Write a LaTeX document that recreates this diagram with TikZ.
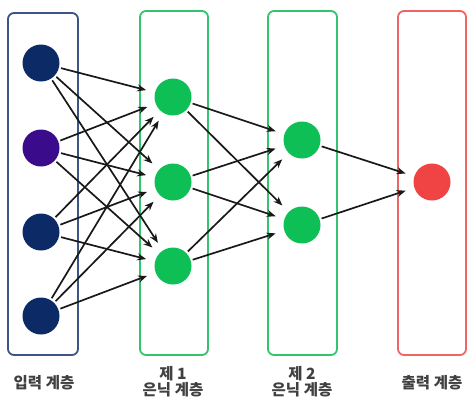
\documentclass[tikz,border=0pt]{standalone}
\usepackage{fontspec}
\newfontfamily\kr{Noto Sans CJK KR}
\usetikzlibrary{arrows.meta}
\definecolor{navy}{HTML}{0C2A66}
\definecolor{purp}{HTML}{3A0C8C}
\definecolor{gbox}{HTML}{35C46E}
\definecolor{gnode}{HTML}{0DBF55}
\definecolor{rbox}{HTML}{F06464}
\definecolor{rnode}{HTML}{F04444}
\begin{document}
\begin{tikzpicture}[x=1pt,y=-1pt,
  layerbox/.style={draw,line width=1.8pt,rounded corners=6pt},
  neuron/.style={circle,minimum size=37pt,inner sep=0pt},
  conn/.style={-{Stealth[length=9pt,width=7pt]},line width=1.7pt,black!90,shorten >=9pt,shorten <=2pt},
  lbl/.style={font=\kr\bfseries\fontsize{15.5}{20}\selectfont,align=center,text=black!75,inner sep=1pt}]
\useasboundingbox (0,0) rectangle (472,400);
\fill[white] (0,0) rectangle (472,400);
% boxes
\draw[layerbox,draw=navy!80] (8,13) rectangle (78,355);
\draw[layerbox,draw=gbox] (140,11) rectangle (208,355);
\draw[layerbox,draw=gbox] (268,11) rectangle (337,355);
\draw[layerbox,draw=rbox] (398,11) rectangle (466,355);
% neurons
\node[neuron,fill=navy] (i1) at (41,63) {};
\node[neuron,fill=purp] (i2) at (41,148) {};
\node[neuron,fill=navy] (i3) at (41,232) {};
\node[neuron,fill=navy] (i4) at (41,316) {};
\node[neuron,fill=gnode] (h1) at (173,97) {};
\node[neuron,fill=gnode] (h2) at (173,182) {};
\node[neuron,fill=gnode] (h3) at (173,266) {};
\node[neuron,fill=gnode] (g1) at (302,140) {};
\node[neuron,fill=gnode] (g2) at (302,225) {};
\node[neuron,fill=rnode] (o1) at (432,182) {};
% connections
\foreach \a in {i1,i2,i3,i4}
  \foreach \b in {h1,h2,h3}
    \draw[conn] (\a) -- (\b);
\foreach \a in {h1,h2,h3}
  \foreach \b in {g1,g2}
    \draw[conn] (\a) -- (\b);
\foreach \a in {g1,g2}
  \draw[conn] (\a) -- (o1);
% labels
\node[lbl] (t1) at (44,383) {입력 계층};
\node[lbl] (t2) at (173,382) {제 1\\[-4pt]은닉 계층};
\node[lbl] (t3) at (302,382) {제 2\\[-4pt]은닉 계층};
\node[lbl] (t4) at (432,383) {출력 계층};
\end{tikzpicture}
\end{document}
